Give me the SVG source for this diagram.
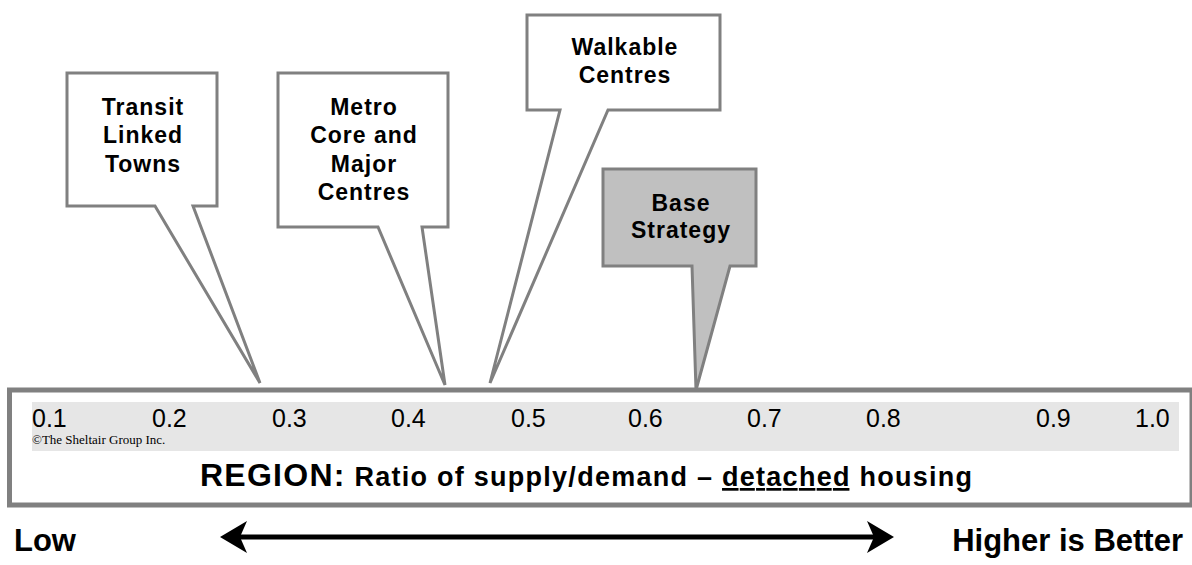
<svg xmlns="http://www.w3.org/2000/svg" width="1192" height="565" viewBox="0 0 1192 565">
<style>
.call{fill:#fff;stroke:#808080;stroke-width:3;stroke-linejoin:miter}
.lbl{font-family:"Liberation Sans",Arial,sans-serif;font-weight:bold;font-size:23px;letter-spacing:1px;fill:#000;text-anchor:middle}
.num{font-family:"Liberation Sans",Arial,sans-serif;font-size:25px;fill:#000}
.big{font-family:"Liberation Sans",Arial,sans-serif;font-weight:bold;fill:#000}
</style>
<rect width="1192" height="565" fill="#fff"/>
<g id="scale">
<rect x="9.5" y="390" width="1182.5" height="115" fill="#fff" stroke="#808080" stroke-width="5"/>
<rect x="32" y="402" width="1147" height="49" fill="#e6e6e6"/>
<text class="num" x="32" y="427">0.1</text>
<text class="num" x="152" y="427">0.2</text>
<text class="num" x="272" y="427">0.3</text>
<text class="num" x="391" y="427">0.4</text>
<text class="num" x="511" y="427">0.5</text>
<text class="num" x="628" y="427">0.6</text>
<text class="num" x="747" y="427">0.7</text>
<text class="num" x="866" y="427">0.8</text>
<text class="num" x="1036" y="427">0.9</text>
<text class="num" x="1135" y="427">1.0</text>
<text x="32" y="444" font-family="'Liberation Serif','Times New Roman',serif" font-size="13" fill="#000">©The Sheltair Group Inc.</text>
<text class="big" x="200" y="486" textLength="772" lengthAdjust="spacing"><tspan font-size="32">REGION:</tspan><tspan font-size="27"> Ratio of supply/demand – <tspan text-decoration="underline">detached</tspan> housing</tspan></text>
</g>
<g id="transit">
<path class="call" d="M67,73 H217 V206 H193 L260,383 L155,206 H67 Z"/>
<text class="lbl" x="143" y="115">Transit</text>
<text class="lbl" x="143" y="143">Linked</text>
<text class="lbl" x="143" y="172">Towns</text>
</g>
<g id="metro">
<path class="call" d="M278,73 H448 V227 H422 L445,385 L378,227 H278 Z"/>
<text class="lbl" x="364" y="115">Metro</text>
<text class="lbl" x="364" y="143">Core and</text>
<text class="lbl" x="364" y="172">Major</text>
<text class="lbl" x="364" y="200">Centres</text>
</g>
<g id="walkable">
<path class="call" d="M527,15 H720 V110 H608 L490,383 L560,110 H527 Z"/>
<text class="lbl" x="625" y="55">Walkable</text>
<text class="lbl" x="625" y="83">Centres</text>
</g>
<g id="base">
<path class="call" style="fill:#c0c0c0" d="M603,169 H756 V266 H730 L696,390 L692,266 H603 Z"/>
<text class="lbl" x="681" y="211">Base</text>
<text class="lbl" x="681" y="238">Strategy</text>
</g>
<g id="connectors">
<line x1="238" y1="537" x2="876" y2="537" stroke="#000" stroke-width="5"/>
<path d="M220,537 L247,521 L240,537 L247,553 Z" fill="#000"/>
<path d="M894,537 L867,521 L874,537 L867,553 Z" fill="#000"/>
</g>
<text class="big" x="14" y="551" font-size="31">Low</text>
<text class="big" x="1183" y="551" font-size="31" text-anchor="end">Higher is Better</text>
</svg>
